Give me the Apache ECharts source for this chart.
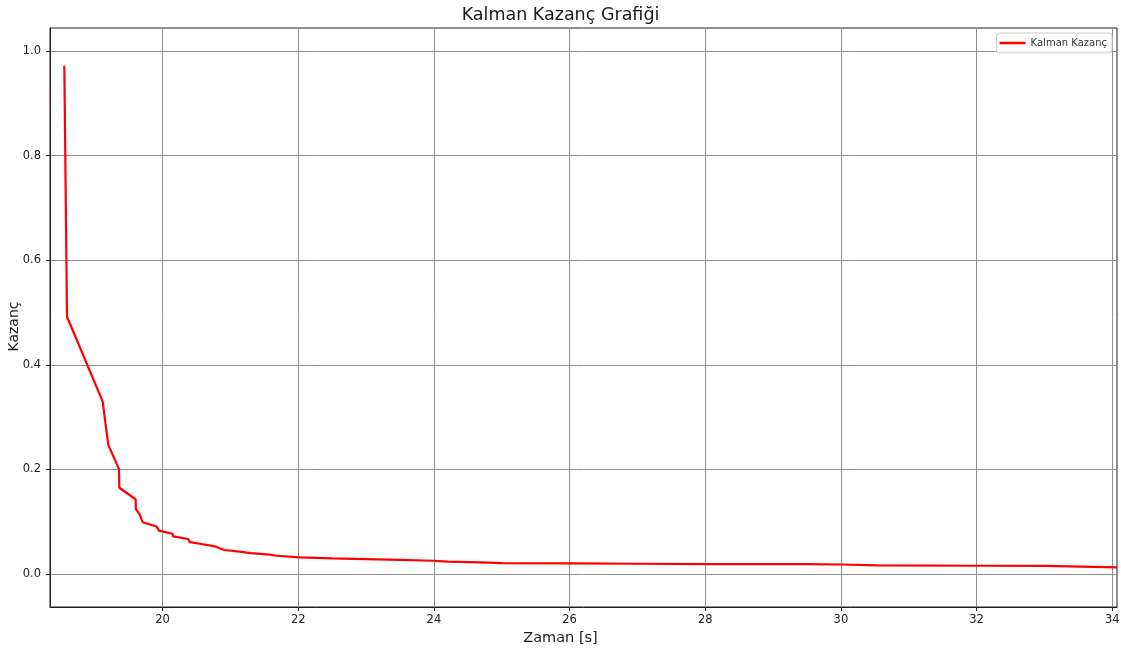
<!DOCTYPE html>
<html>
<head>
<meta charset="utf-8">
<title>Kalman Kazanç Grafiği</title>
<script src="https://cdn.jsdelivr.net/npm/echarts@6/dist/echarts.min.js"></script>
<style>
  html, body { margin: 0; padding: 0; background: #fff; }
  #chart { width: 1121px; height: 653px; }
</style>
</head>
<body>
<div id="chart"></div>
<script>
// zaman ekseni (s) ve kalman kazanci
const timeS = [18.551, 18.591, 19.116, 19.199, 19.356, 19.362, 19.602, 19.606, 19.666, 19.705,
  19.912, 19.946, 20.147, 20.156, 20.377, 20.402, 20.549, 20.564, 20.770, 20.907,
  21.138, 21.296, 21.580, 21.605, 21.688, 22.02, 22.5, 23.0, 23.5, 24.0,
  24.2, 24.7, 25.0, 26.0, 27.0, 28.0, 29.5, 30.0, 30.55, 32.0,
  33.0, 34.07]
const gain = [0.972, 0.492, 0.330, 0.247, 0.201, 0.165, 0.143, 0.124, 0.113, 0.099,
  0.091, 0.083, 0.077, 0.072, 0.067, 0.061, 0.058, 0.055, 0.053, 0.046,
  0.043, 0.040, 0.037, 0.0375, 0.035, 0.0317, 0.030, 0.0285, 0.027, 0.0254,
  0.0238, 0.0225, 0.021, 0.0203, 0.0197, 0.0191, 0.0191, 0.0183, 0.0164, 0.0159,
  0.0155, 0.0126]
const xTicks = [20, 22, 24, 26, 28, 30, 32, 34]
const yTicks = [0, 0.2, 0.4, 0.6, 0.8, 1.0]

const font = 'DejaVu Sans'
const instance = echarts.init(document.getElementById('chart'))

const seriesData = timeS.map((t, i) => [t, gain[i]])

const options = {
  animation: false,
  backgroundColor: '#fff',
  title: {
    text: 'Kalman Kazanç Grafiği',
    left: 'center',
    top: 6,
    padding: 0,
    textStyle: { fontFamily: font, fontSize: 17.5, fontWeight: 'normal', color: '#1a1a1a' },
  },
  legend: {
    right: 9,
    top: 33,
    icon: 'rect',
    itemWidth: 26,
    itemHeight: 2.5,
    padding: [5, 5, 5, 3],
    borderColor: '#cccccc',
    borderWidth: 1,
    borderRadius: 3,
    backgroundColor: 'rgba(255,255,255,0.8)',
    textStyle: { fontFamily: font, fontSize: 10, color: '#333' },
    data: ['Kalman Kazanç'],
  },
  grid: {
    left: 50,
    right: 4,
    top: 28,
    bottom: 46,
    outerBoundsMode: 'none',
    containLabel: false,
    show: true,
    borderColor: '#222',
    borderWidth: 1,
    backgroundColor: 'transparent',
  },
  xAxis: {
    type: 'value',
    min: 18.34,
    max: 34.07,
    name: 'Zaman [s]',
    nameLocation: 'middle',
    nameGap: 24,
    nameMoveOverlap: false,
    nameTextStyle: { fontFamily: font, fontSize: 14.5, color: '#1a1a1a', padding: [0, 46, 0, 0] },
    axisLine: { show: true, onZero: false, lineStyle: { color: '#222', width: 1 } },
    axisTick: { show: true, customValues: xTicks, length: 4, lineStyle: { color: '#222' } },
    axisLabel: {
      customValues: xTicks,
      margin: 7,
      fontFamily: font,
      fontSize: 11.5,
      color: '#222',
    },
    splitLine: { show: true, lineStyle: { color: '#909090', width: 1 } },
  },
  yAxis: {
    type: 'value',
    min: -0.063,
    max: 1.044,
    name: 'Kazanç',
    nameLocation: 'middle',
    nameGap: 29,
    nameMoveOverlap: false,
    nameTextStyle: { fontFamily: font, fontSize: 14, color: '#1a1a1a', padding: [0, 18, 0, 0] },
    axisLine: { show: true, onZero: false, lineStyle: { color: '#222', width: 1 } },
    axisTick: { show: true, customValues: yTicks, length: 4, lineStyle: { color: '#222' } },
    axisLabel: {
      customValues: yTicks,
      margin: 9,
      fontFamily: font,
      fontSize: 11.5,
      color: '#222',
      formatter: (v) => v.toFixed(1),
    },
    splitLine: { show: true, lineStyle: { color: '#909090', width: 1 } },
  },
  series: [
    {
      name: 'Kalman Kazanç',
      type: 'line',
      showSymbol: false,
      symbol: 'none',
      color: '#ff0000',
      lineStyle: { color: '#ff0000', width: 2.2 },
      clip: true,
      data: seriesData,
    },
  ],
}

instance.setOption(options)
</script>
</body>
</html>
